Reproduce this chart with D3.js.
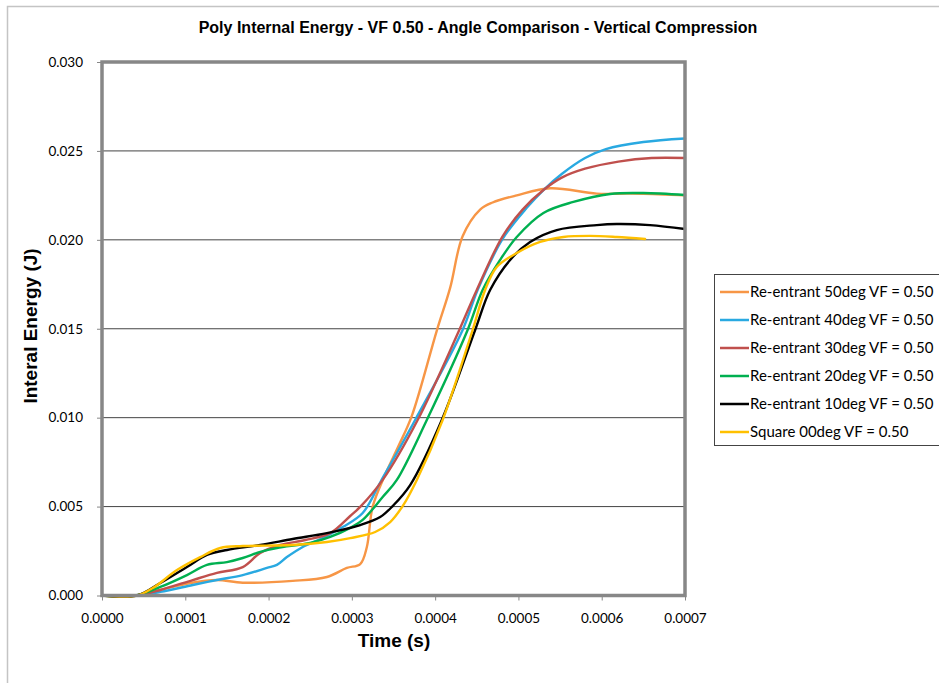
<!DOCTYPE html>
<html>
<head>
<meta charset="utf-8">
<script src="https://cdn.jsdelivr.net/npm/d3@7"></script>
<style>
  html, body { margin: 0; padding: 0; background: #fff; }
  svg { display: block; }
</style>
</head>
<body>
<svg id="chart" width="939" height="683"></svg>
<script>
// Internal energy (J) versus time (s) for each cell geometry
const re50 = [[0,0],[0.000040,0],[0.000070,0.00031],[0.000106,0.00070],[0.000138,0.00087],[0.000169,0.00072],[0.000229,0.00082],[0.000270,0.00104],[0.000294,0.00155],[0.000310,0.00177],[0.000318,0.00273],[0.000325,0.0050],[0.000340,0.0068],[0.000356,0.0084],[0.000372,0.0101],[0.000402,0.0149],[0.000418,0.0173],[0.000433,0.0202],[0.000454,0.0217],[0.000469,0.0221],[0.000498,0.0225],[0.000538,0.0229],[0.000594,0.0226],[0.000634,0.0226],[0.000700,0.0225]];
const re40 = [[0,0],[0.000040,0],[0.000070,0.00020],[0.000109,0.00059],[0.000138,0.00087],[0.000169,0.00115],[0.000198,0.00155],[0.000210,0.00172],[0.000222,0.00216],[0.000241,0.00273],[0.000265,0.00323],[0.000289,0.00385],[0.000313,0.00464],[0.000335,0.00644],[0.000376,0.00987],[0.000433,0.01493],[0.000451,0.01718],[0.000481,0.02005],[0.000510,0.02180],[0.000530,0.0228],[0.000552,0.0237],[0.000580,0.0246],[0.000605,0.0251],[0.000650,0.0255],[0.000700,0.0257]];
const re30 = [[0,0],[0.000040,0],[0.000070,0.00031],[0.000109,0.00087],[0.000138,0.00127],[0.000169,0.00160],[0.000190,0.00239],[0.000214,0.00284],[0.000244,0.00312],[0.000274,0.00351],[0.000298,0.00447],[0.000310,0.00498],[0.000337,0.00650],[0.000379,0.00987],[0.000429,0.01493],[0.000450,0.01718],[0.000481,0.0202],[0.000505,0.0217],[0.000530,0.0228],[0.000552,0.0235],[0.000580,0.0240],[0.000620,0.0244],[0.000660,0.0246],[0.000700,0.0246]];
const re20 = [[0,0],[0.000040,0],[0.000070,0.00048],[0.000102,0.00115],[0.000126,0.00172],[0.000150,0.00188],[0.000169,0.00211],[0.000190,0.00245],[0.000210,0.00267],[0.000250,0.00295],[0.000274,0.00329],[0.000298,0.00380],[0.000313,0.00425],[0.000337,0.00554],[0.000354,0.00650],[0.000390,0.00987],[0.000439,0.01493],[0.000457,0.01718],[0.000478,0.01887],[0.000498,0.02016],[0.000530,0.02151],[0.000566,0.02213],[0.000610,0.02258],[0.000650,0.02263],[0.000700,0.02252]];
const re10 = [[0,0],[0.000042,0],[0.000070,0.00070],[0.000102,0.00160],[0.000126,0.00228],[0.000150,0.00256],[0.000190,0.00284],[0.000229,0.00318],[0.000270,0.00351],[0.000310,0.00396],[0.000334,0.00441],[0.000349,0.00503],[0.000370,0.00621],[0.000408,0.00987],[0.000448,0.01493],[0.000466,0.01718],[0.000490,0.01887],[0.000514,0.01988],[0.000546,0.02055],[0.000594,0.02083],[0.000618,0.02089],[0.000658,0.02083],[0.000700,0.02061]];
const sq00 = [[0,0],[0.000042,0],[0.000061,0.00042],[0.000090,0.00143],[0.000118,0.00216],[0.000142,0.00267],[0.000169,0.00278],[0.000229,0.00284],[0.000270,0.00301],[0.000298,0.00323],[0.000328,0.00357],[0.000346,0.00413],[0.000361,0.00503],[0.000378,0.00650],[0.000409,0.00987],[0.000445,0.01493],[0.000460,0.01718],[0.000474,0.01847],[0.000498,0.01926],[0.000526,0.01988],[0.000554,0.02016],[0.000586,0.02022],[0.000618,0.02016],[0.000652,0.02005]];

const seriesNames = ["Re-entrant 50deg VF = 0.50","Re-entrant 40deg VF = 0.50","Re-entrant 30deg VF = 0.50","Re-entrant 20deg VF = 0.50","Re-entrant 10deg VF = 0.50","Square 00deg VF = 0.50"];
const seriesData = [re50, re40, re30, re20, re10, sq00];
const seriesColors = ["#F79646","#29A9E1","#C0504D","#00B050","#000000","#FFC000"];

const xTicks = [0,0.0001,0.0002,0.0003,0.0004,0.0005,0.0006,0.0007];
const yTicks = [0,0.005,0.010,0.015,0.020,0.025,0.030];

const svg = d3.select("#chart");
const tickFont = "Lato, 'Open Sans', sans-serif";
const boldFont = "'Liberation Sans', Arial, sans-serif";

// chart area outline
svg.append("path")
  .attr("d", "M7.5,683 V6.5 H939")
  .attr("fill", "none").attr("stroke", "#c4c4c4").attr("stroke-width", 1.5);

const x = d3.scaleLinear().domain([0, 0.0007]).range([102, 685]);
const y = d3.scaleLinear().domain([0, 0.03]).range([595.5, 62]);

// horizontal gridlines
svg.append("g").selectAll("line")
  .data(yTicks.filter(v => v > 0 && v < 0.03))
  .join("line")
  .attr("x1", x(0)).attr("x2", x(0.0007))
  .attr("y1", d => y(d)).attr("y2", d => y(d))
  .attr("stroke", "#444").attr("stroke-width", 1);

// axes
const yAxis = svg.append("g").attr("transform", `translate(${x(0)},0)`)
  .call(d3.axisLeft(y).tickValues(yTicks).tickFormat(d3.format(".3f")).tickSize(5).tickPadding(14));
const xAxis = svg.append("g").attr("transform", `translate(0,${y(0)})`)
  .call(d3.axisBottom(x).tickValues(xTicks).tickFormat(d3.format(".4f")).tickSize(5).tickPadding(13));
[yAxis, xAxis].forEach(g => {
  g.select(".domain").remove();
  g.selectAll(".tick line").attr("stroke", "#878787").attr("stroke-width", 1);
  g.selectAll(".tick text").attr("fill", "#000").style("font-family", tickFont).style("font-size", "13.5px");
});

// series lines
const line = d3.line().x(d => x(d[0])).y(d => y(d[1])).curve(d3.curveCatmullRom.alpha(0.5));
svg.append("g").selectAll("path")
  .data(seriesData)
  .join("path")
  .attr("d", d => line(d))
  .attr("fill", "none")
  .attr("stroke", (d, i) => seriesColors[i])
  .attr("stroke-width", 2.4)
  .attr("stroke-linejoin", "round").attr("stroke-linecap", "round");

// plot frame
svg.append("rect")
  .attr("x", x(0)).attr("y", y(0.03))
  .attr("width", x(0.0007) - x(0)).attr("height", y(0) - y(0.03))
  .attr("fill", "none").attr("stroke", "#878787").attr("stroke-width", 3.5);

// title and axis titles
svg.append("text").attr("x", 478).attr("y", 33).attr("text-anchor", "middle")
  .style("font-family", "'Liberation Sans Narrow', 'Liberation Sans', Arial, sans-serif")
  .style("font-weight", "bold").style("font-size", "16px")
  .text("Poly Internal Energy - VF 0.50 - Angle Comparison - Vertical Compression");
svg.append("text").attr("x", 394).attr("y", 647).attr("text-anchor", "middle")
  .style("font-family", boldFont).style("font-weight", "bold").style("font-size", "19px")
  .text("Time (s)");
svg.append("text").attr("transform", "translate(37,326) rotate(-90)").attr("text-anchor", "middle")
  .style("font-family", boldFont).style("font-weight", "bold").style("font-size", "19px")
  .text("Interal Energy (J)");

// legend
const legend = svg.append("g");
legend.append("rect").attr("x", 714.5).attr("y", 274.5).attr("width", 230).attr("height", 171)
  .attr("fill", "#fff").attr("stroke", "#444").attr("stroke-width", 1);
const rows = legend.selectAll("g.row").data(seriesNames).join("g")
  .attr("transform", (d, i) => `translate(0,${292 + i * 28})`);
rows.append("line").attr("x1", 720).attr("x2", 749).attr("y1", 0).attr("y2", 0)
  .attr("stroke", (d, i) => seriesColors[i]).attr("stroke-width", 2.5);
rows.append("text").attr("x", 750).attr("y", 5)
  .style("font-family", tickFont).style("font-size", "15px")
  .text(d => d);
</script>
</body>
</html>
